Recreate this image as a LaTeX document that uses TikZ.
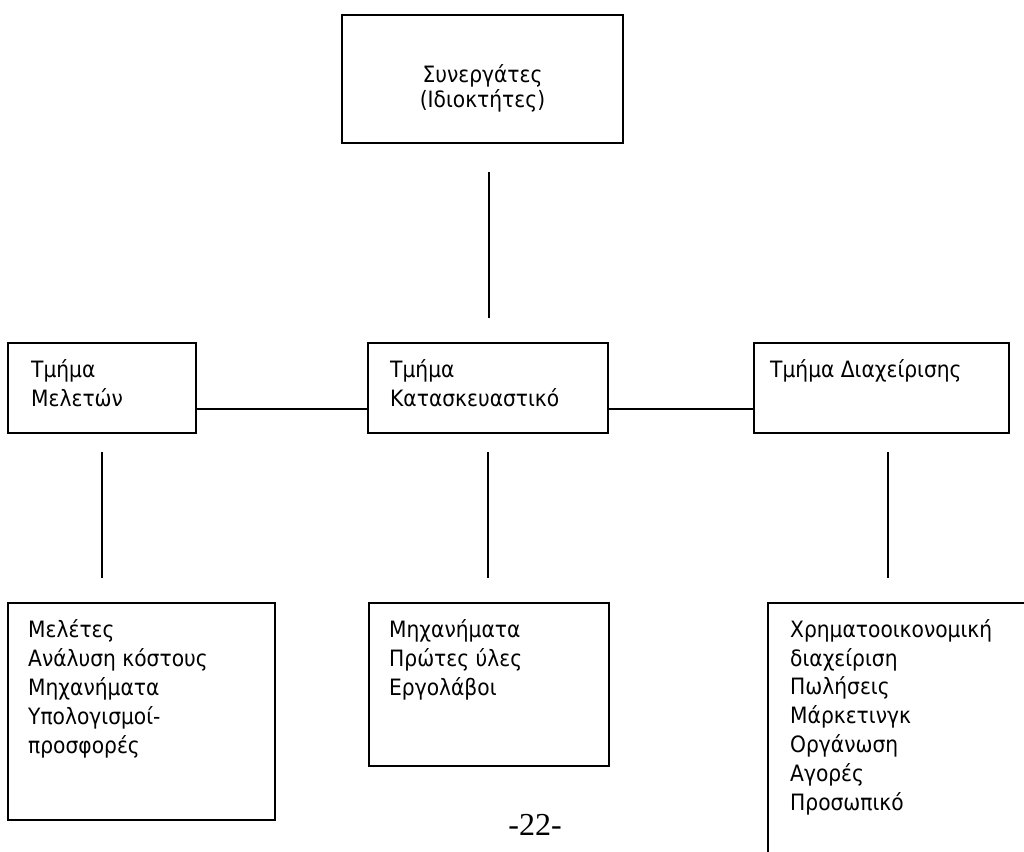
\documentclass[tikz,border=0pt]{standalone}
\usepackage{fontspec}
\setmainfont{DejaVu Sans Condensed}
\newfontfamily\pagefont{Liberation Serif}
\begin{document}
\begin{tikzpicture}[x=1pt,y=-1pt,
  box/.style={draw, line width=1.9pt, rectangle, inner sep=0pt},
  link/.style={line width=1.9pt},
  txt/.style={inner sep=0pt, anchor=base west, align=left, font=\fontsize{22.5}{28.8}\selectfont},
  ctxt/.style={inner sep=0pt, anchor=base, align=center, font=\fontsize{22.5}{25}\selectfont}]
\useasboundingbox (0,0) rectangle (1024,851);
\clip (0,0) rectangle (1024,851);
% boxes
\node[box, minimum width=281pt, minimum height=128pt] (top) at (482.5,79) {};
\node[box, minimum width=188pt, minimum height=90pt] (mel) at (102,388) {};
\node[box, minimum width=240pt, minimum height=90pt] (kat) at (488,388) {};
\node[box, minimum width=255pt, minimum height=90pt] (dia) at (881.5,388) {};
\node[box, minimum width=267pt, minimum height=217pt] (bmel) at (141.5,711.5) {};
\node[box, minimum width=240pt, minimum height=163pt] (bkat) at (489,684.5) {};
\node[box, minimum width=272pt, minimum height=277pt] (bdia) at (904,741.5) {};
% texts (anchored at the baseline of their last line)
\node[ctxt] (ttop) at (482.5,107) {Συνεργάτες\\(Ιδιοκτήτες)};
\node[txt] (tmel) at (31,406) {Τμήμα\\Μελετών};
\node[txt] (tkat) at (390,406) {Τμήμα\\Κατασκευαστικό};
\node[txt] (tdia) at (770,377) {Τμήμα Διαχείρισης};
\node[txt] (tbmel) at (28,753) {Μελέτες\\Ανάλυση κόστους\\Μηχανήματα\\Υπολογισμοί-\\προσφορές};
\node[txt] (tbkat) at (389,695.5) {Μηχανήματα\\Πρώτες ύλες\\Εργολάβοι};
\node[txt] (tbdia) at (790,810) {Χρηματοοικονομική\\διαχείριση\\Πωλήσεις\\Μάρκετινγκ\\Οργάνωση\\Αγορές\\Προσωπικό};
\node[inner sep=0pt, anchor=base, font=\pagefont\fontsize{32}{36}\selectfont] (page) at (535,835) {-22-};
% connectors
\coordinate (v0a) at (489,172);
\coordinate (v0b) at (489,318);
\coordinate (v1a) at (102,452);
\coordinate (v1b) at (102,578);
\coordinate (v2a) at (488,452);
\coordinate (v2b) at (488,578);
\coordinate (v3a) at (888,452);
\coordinate (v3b) at (888,578);
\draw[link] (v0a) -- (v0b);
\draw[link] (v1a) -- (v1b);
\draw[link] (v2a) -- (v2b);
\draw[link] (v3a) -- (v3b);
\draw[link] ([yshift=-21pt]mel.east) -- ([yshift=-21pt]kat.west);
\draw[link] ([yshift=-21pt]kat.east) -- ([yshift=-21pt]dia.west);
\end{tikzpicture}
\end{document}
